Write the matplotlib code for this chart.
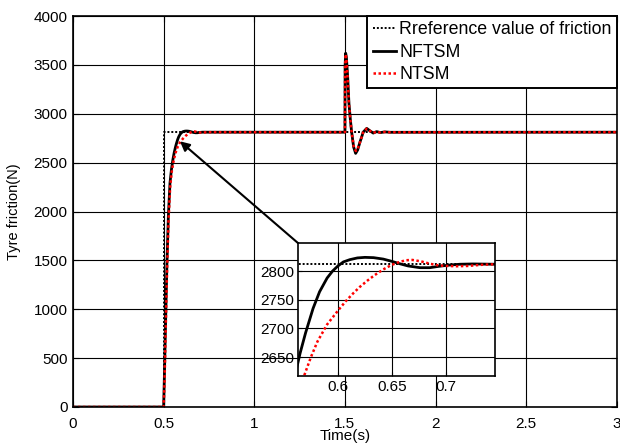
import matplotlib
matplotlib.use("Agg")
import matplotlib.pyplot as plt

plt.rcParams['font.family'] = ['Liberation Sans', 'DejaVu Sans']

# reference friction
t_ref = [0, 0.5, 0.5, 3.0]
f_ref = [0, 0, 2812, 2812]

# NFTSM response (black solid)
t_nftsm = [0, 0.5, 0.504, 0.51, 0.518, 0.526, 0.535, 0.543, 0.551, 0.558, 0.565,
           0.57, 0.577, 0.583, 0.59, 0.595, 0.6, 0.605, 0.611, 0.618, 0.625, 0.633,
           0.642, 0.65, 0.657, 0.665, 0.676, 0.685, 0.694, 0.703, 0.713, 0.725, 0.745,
           1.5, 1.501, 1.504, 1.508, 1.515, 1.522, 1.53, 1.537, 1.548, 1.559, 1.57,
           1.583, 1.601, 1.62, 1.638, 1.656, 1.675, 1.695, 1.72, 1.75, 3.0]
f_nftsm = [0, 0, 300, 800, 1450, 1950, 2290, 2430, 2530, 2600, 2657,
           2692, 2735, 2764, 2788, 2800, 2809, 2816, 2820, 2823, 2824, 2823.5,
           2821, 2817, 2813, 2809, 2806, 2806, 2808.5, 2810.5, 2812, 2812.5, 2812,
           2812, 3500, 3620, 3580, 3380, 3110, 2940, 2813, 2660, 2595, 2630,
           2711, 2813, 2851, 2826, 2803, 2818, 2808, 2815, 2811, 2812]

# NTSM response (red dotted)
t_ntsm = [0, 0.5, 0.505, 0.511, 0.519, 0.527, 0.536, 0.545, 0.553, 0.561, 0.569,
          0.575, 0.581, 0.59, 0.6, 0.607, 0.614, 0.62, 0.627, 0.634, 0.642, 0.65,
          0.657, 0.663, 0.669, 0.677, 0.685, 0.693, 0.7, 0.71, 0.72, 0.733, 0.745,
          1.5, 1.501, 1.504, 1.508, 1.515, 1.522, 1.53, 1.537, 1.548, 1.56, 1.571,
          1.584, 1.601, 1.62, 1.638, 1.656, 1.675, 1.695, 1.72, 1.75, 3.0]
f_ntsm = [0, 0, 250, 750, 1400, 1900, 2250, 2410, 2500, 2565, 2619,
          2650, 2677, 2707, 2731, 2747, 2761, 2772, 2783, 2793, 2803, 2811,
          2816, 2819, 2819.5, 2817, 2813, 2810, 2809, 2808.5, 2809, 2811, 2812,
          2812, 3480, 3610, 3570, 3370, 3100, 2935, 2815, 2670, 2620, 2645,
          2715, 2812, 2848, 2825, 2805, 2817, 2809, 2814, 2811, 2812]

x_ticks = [0, 0.5, 1, 1.5, 2, 2.5, 3]
y_ticks = [0, 500, 1000, 1500, 2000, 2500, 3000, 3500, 4000]
x_ticks_zoom = [0.6, 0.65, 0.7]
y_ticks_zoom = [2650, 2700, 2750, 2800]
arrow_tip = (0.59, 2719)

fig = plt.figure(figsize=(6.2, 4.47), dpi=100)
ax = fig.add_axes([0.1177, 0.0895, 0.8773, 0.8745])


def draw_curves(a):
    a.plot(t_ref, f_ref, color='k', linestyle=(0, (1, 1)), lw=1.4,
           label='Rreference value of friction')
    a.plot(t_nftsm, f_nftsm, color='k', linestyle='-', lw=2.0, label='NFTSM')
    a.plot(t_ntsm, f_ntsm, color='red', linestyle=(0, (1, 1)), lw=1.8, label='NTSM')


draw_curves(ax)
ax.set_xlim(0, 3)
ax.set_ylim(0, 4000)
ax.set_xticks(x_ticks)
ax.set_xticklabels(['0', '0.5', '1', '1.5', '2', '2.5', '3'])
ax.set_yticks(y_ticks)
ax.grid(True, color='k', linestyle='-', lw=0.8)
ax.tick_params(direction='in', length=4, labelsize=11, top=True, right=True)
ax.tick_params(axis='x', pad=7)
ax.tick_params(axis='y', pad=4)
ax.set_xlabel('Time(s)', fontsize=11, labelpad=-1)
ax.set_ylabel('Tyre friction(N)', fontsize=10.5, labelpad=9)
for s in ax.spines.values():
    s.set_linewidth(1.2)

leg = ax.legend(loc='upper right', borderaxespad=0, fontsize=12.8, fancybox=False,
                framealpha=1, edgecolor='k', handlelength=1.3, handletextpad=0.2,
                labelspacing=0.3, borderpad=0.3)
leg.get_frame().set_linewidth(1.4)

# zoomed inset
ax_in = fig.add_axes([0.4806, 0.1588, 0.3177, 0.2975])
draw_curves(ax_in)
ax_in.set_xlim(0.563, 0.7454)
ax_in.set_ylim(2617, 2849)
ax_in.set_xticks(x_ticks_zoom)
ax_in.set_xticklabels(['0.6', '0.65', '0.7'])
ax_in.set_yticks(y_ticks_zoom)
ax_in.grid(True, color='k', linestyle='-', lw=0.8)
ax_in.tick_params(direction='in', length=3, labelsize=11, pad=3)
for s in ax_in.spines.values():
    s.set_linewidth(1.2)

ax.annotate('', xy=arrow_tip, xycoords='data', xytext=(0, 1), textcoords=ax_in.transAxes,
            arrowprops=dict(arrowstyle='-|>', color='k', lw=1.5, mutation_scale=14,
                            shrinkA=0, shrinkB=0))

fig.savefig('out.png', dpi=100)
